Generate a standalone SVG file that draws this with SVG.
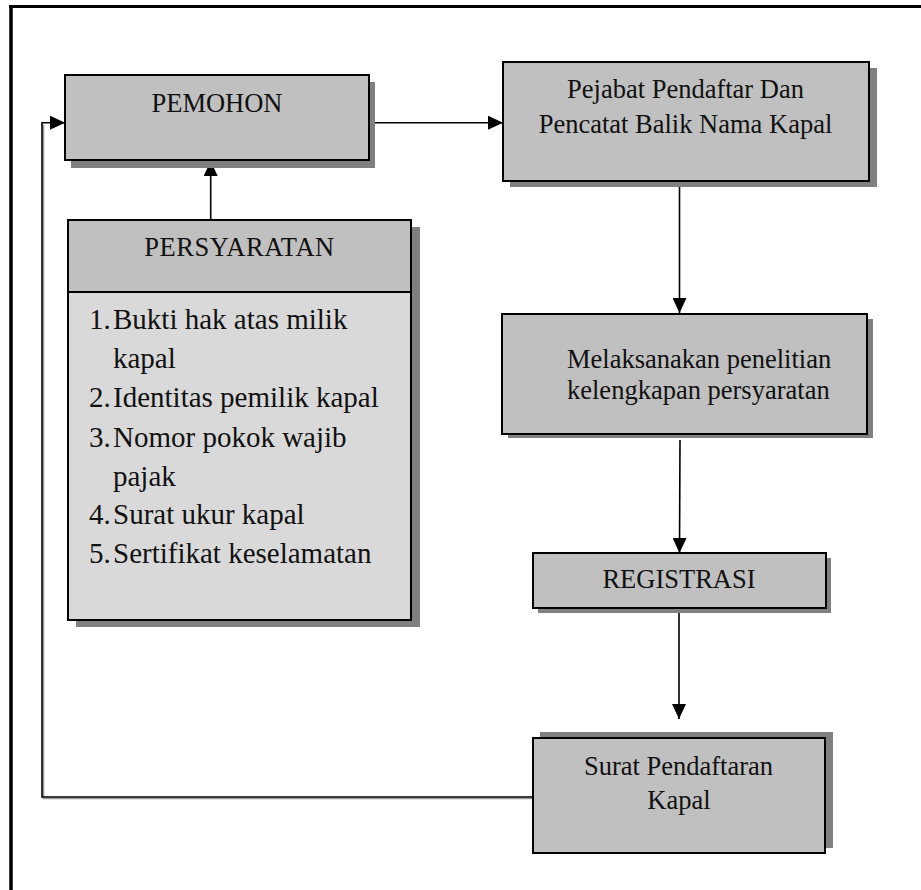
<svg xmlns="http://www.w3.org/2000/svg" width="921" height="890" viewBox="0 0 921 890">
<defs>
<style>
.box{fill:#c0c0c0;stroke:#000;stroke-width:2}
.body{fill:#d9d9d9;stroke:#000;stroke-width:2}
.shadow{fill:#808080}
.t{font-family:"Liberation Serif","Times New Roman",serif;font-size:26.5px;fill:#111}
.c{text-anchor:middle}
.li{font-family:"Liberation Serif","Times New Roman",serif;font-size:29px;fill:#111}
.conn{stroke:#000;stroke-width:1.6;fill:none}
</style>
<marker id="arr" viewBox="0 0 15 14" refX="15" refY="7" markerWidth="15" markerHeight="14" markerUnits="userSpaceOnUse" orient="auto">
<path d="M0,0 L15,7 L0,14 Z" fill="#000"/>
</marker>
</defs>
<rect width="921" height="890" fill="#fff"/>
<g id="frame">
<line x1="9" y1="6.5" x2="921" y2="6.5" stroke="#000" stroke-width="3"/>
<line x1="11" y1="5" x2="11" y2="890" stroke="#000" stroke-width="3.5"/>
</g>
<g id="connectors">
<line class="conn" x1="369" y1="122.7" x2="503" y2="122.7" marker-end="url(#arr)"/>
<line class="conn" x1="210.7" y1="220" x2="210.7" y2="161" marker-end="url(#arr)"/>
<line class="conn" x1="679.5" y1="181" x2="679.5" y2="313" marker-end="url(#arr)"/>
<line class="conn" x1="680" y1="440" x2="679.5" y2="553" marker-end="url(#arr)"/>
<line class="conn" x1="679" y1="608" x2="679" y2="719" marker-end="url(#arr)"/>
<polyline points="533,797.5 42.5,797.5 42.5,123.5" fill="none" stroke="#999" stroke-width="1.6" transform="translate(1,1)"/>
<polyline class="conn" points="533,797 42,797 42,122.7 65,122.7" marker-end="url(#arr)"/>
</g>
<g id="pemohon">
<rect class="shadow" x="71" y="82" width="304" height="86"/>
<rect class="box" x="65" y="75" width="304" height="85"/>
<text class="t c" x="217" y="112">PEMOHON</text>
</g>
<g id="pejabat">
<rect class="shadow" x="510" y="68" width="367" height="119"/>
<rect class="box" x="503" y="62" width="366" height="119"/>
<text class="t c" x="685.5" y="98">Pejabat Pendaftar Dan</text>
<text class="t c" x="685.5" y="133">Pencatat Balik Nama Kapal</text>
</g>
<g id="persyaratan">
<rect class="shadow" x="76" y="227" width="344" height="400"/>
<rect class="box" x="68" y="220" width="343" height="72"/>
<rect class="body" x="68" y="292" width="343" height="328"/>
<text class="t c" x="239.5" y="256" letter-spacing="0.5">PERSYARATAN</text>
<text class="li" x="89" y="329">1.</text><text class="li" x="113" y="329">Bukti hak atas milik</text>
<text class="li" x="113" y="368">kapal</text>
<text class="li" x="89" y="407">2.</text><text class="li" x="113" y="407">Identitas pemilik kapal</text>
<text class="li" x="89" y="447">3.</text><text class="li" x="113" y="447">Nomor pokok wajib</text>
<text class="li" x="113" y="486">pajak</text>
<text class="li" x="89" y="524">4.</text><text class="li" x="113" y="524">Surat ukur kapal</text>
<text class="li" x="89" y="563">5.</text><text class="li" x="113" y="563">Sertifikat keselamatan</text>
</g>
<g id="melaksanakan">
<rect class="shadow" x="508" y="319" width="365" height="119"/>
<rect class="box" x="502" y="314" width="365" height="120"/>
<text class="t" x="567" y="368">Melaksanakan penelitian</text>
<text class="t" x="567" y="399">kelengkapan persyaratan</text>
</g>
<g id="registrasi">
<rect class="shadow" x="538" y="558" width="293" height="55"/>
<rect class="box" x="533" y="553" width="293" height="55"/>
<text class="t c" x="679" y="588">REGISTRASI</text>
</g>
<g id="surat">
<rect class="shadow" x="540" y="732" width="293" height="116"/>
<rect class="box" x="533" y="738" width="292" height="115"/>
<text class="t c" x="678.5" y="775">Surat Pendaftaran</text>
<text class="t c" x="679" y="809">Kapal</text>
</g>
</svg>
